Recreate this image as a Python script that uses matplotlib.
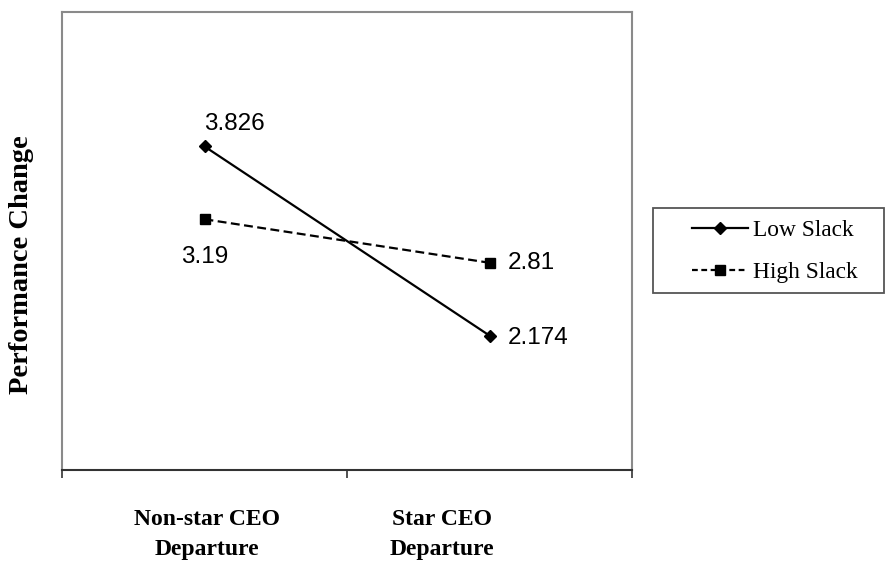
import matplotlib
matplotlib.use("Agg")
import matplotlib.pyplot as plt
import matplotlib.transforms as mtransforms
from matplotlib.patches import Rectangle
from matplotlib.lines import Line2D

# ── Data ──────────────────────────────────────────────────
categories = ["Non-star CEO\nDeparture", "Star CEO\nDeparture"]
series_names = ["Low Slack", "High Slack"]
low_slack = [3.826, 2.174]
high_slack = [3.19, 2.81]
low_labels = ["3.826", "2.174"]
high_labels = ["3.19", "2.81"]

SERIF = ["Liberation Serif", "DejaVu Serif"]
SANS = ["Liberation Sans", "DejaVu Sans"]

W, H = 888, 569
fig = plt.figure(figsize=(W / 100, H / 100), dpi=100)
ax = fig.add_axes([62 / W, 1 - 470 / H, 570 / W, 458 / H])

xpos = [0.5, 1.5]

ax.plot(xpos, low_slack, color="black", linewidth=1.6, marker="D",
        markersize=6, zorder=3)
ax.plot(xpos, high_slack, color="black", linewidth=1.6, linestyle=(0, (4, 2)),
        marker="s", markersize=6.5, zorder=3)

# value labels
ax.annotate(low_labels[0], (xpos[0], low_slack[0]), xytext=(0, 16),
            textcoords="offset points", ha="left", va="center",
            fontsize=17.5, family=SANS)
ax.annotate(high_labels[0], (xpos[0], high_slack[0]), xytext=(0, -27),
            textcoords="offset points", ha="center", va="center",
            fontsize=17.5, family=SANS)
ax.annotate(high_labels[1], (xpos[1], high_slack[1]), xytext=(13, 0),
            textcoords="offset points", ha="left", va="center",
            fontsize=17.5, family=SANS)
ax.annotate(low_labels[1], (xpos[1], low_slack[1]), xytext=(13, -2),
            textcoords="offset points", ha="left", va="center",
            fontsize=17.5, family=SANS)

ax.set_xlim(0, 2)
ax.set_ylim(1, 5)

# axis frame
for side in ["top", "right", "left"]:
    ax.spines[side].set_color("#8a8a8a")
    ax.spines[side].set_linewidth(1.5)
ax.spines["bottom"].set_color("#333333")
ax.spines["bottom"].set_linewidth(1.5)

ax.set_yticks([])
ax.set_xticks([0, 1, 2])
ax.set_xticklabels([])
ax.tick_params(axis="x", which="major", direction="out", length=6,
               width=1.2, color="#333333")
ax.set_xticks(xpos, minor=True)
ax.set_xticklabels(categories, minor=True, fontsize=17, fontweight="bold",
                   family=SERIF, linespacing=1.6)
ax.tick_params(axis="x", which="minor", length=0, pad=28)

# second category label sits left of its center in the original
lbls = ax.get_xticklabels(minor=True)
lbls[0].set_transform(lbls[0].get_transform() +
                      mtransforms.ScaledTranslation(2 / 100, 0, fig.dpi_scale_trans))
lbls[1].set_transform(lbls[1].get_transform() +
                      mtransforms.ScaledTranslation(-48 / 100, 0, fig.dpi_scale_trans))

ax.set_ylabel("Performance Change", fontsize=20.5, fontweight="bold",
              family=SERIF)
ax.yaxis.set_label_coords(-0.049, 0.448)

# legend: proxy handles (shorter dashes), frameless + separate box
handles = [
    Line2D([], [], color="black", linewidth=1.6, marker="D", markersize=6),
    Line2D([], [], color="black", linewidth=1.6, linestyle=(0, (2.6, 1.6)),
           marker="s", markersize=6.5),
]
leg = fig.legend(handles, series_names, loc="center left",
                 bbox_to_anchor=(692 / W, 1 - 251.5 / H),
                 prop={"family": SERIF, "size": 16.8}, frameon=False,
                 handlelength=2.4, handletextpad=0.2, labelspacing=0.9,
                 borderpad=0, borderaxespad=0)
fig.patches.append(Rectangle((653 / W, 1 - 293 / H), 231 / W, 85 / H,
                             transform=fig.transFigure, fill=False,
                             edgecolor="#555555", linewidth=1.3))

fig.savefig("out.png", dpi=100)
